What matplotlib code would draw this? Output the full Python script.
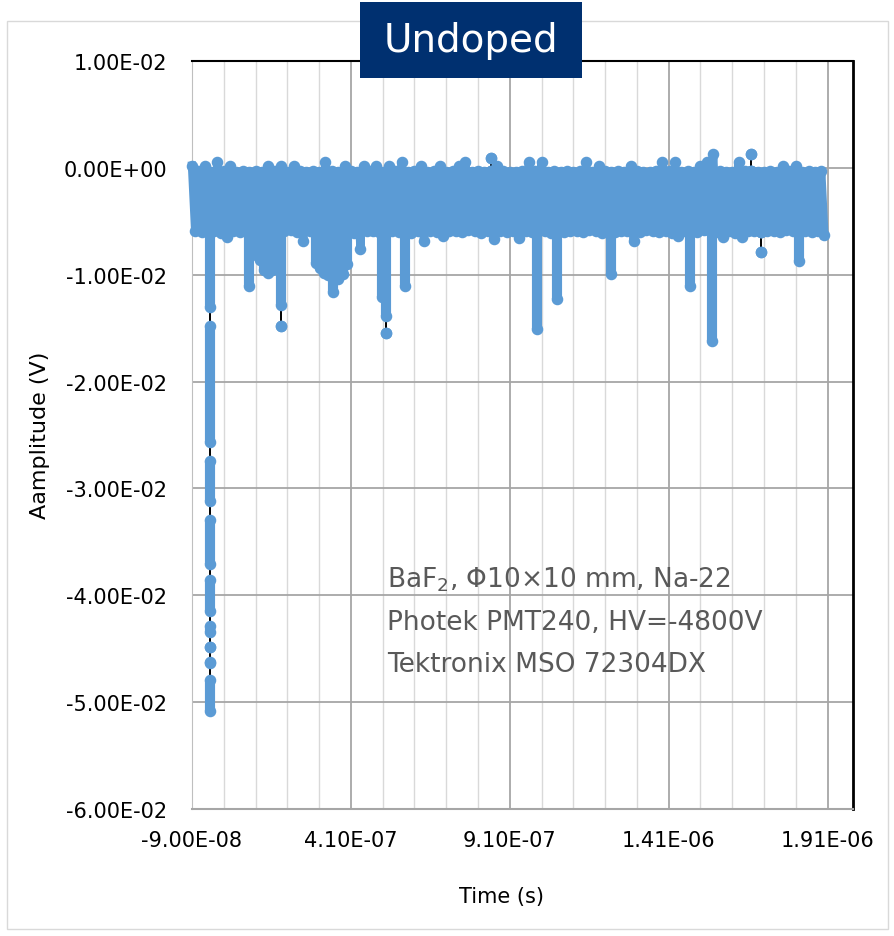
import numpy as np
import matplotlib
matplotlib.use("Agg")
import matplotlib.pyplot as plt
from matplotlib.ticker import FixedLocator, MultipleLocator, FuncFormatter
from matplotlib.patches import Rectangle

# scope record: crest / trough samples of the noise band (mV), 10 ns apart
t_first_ns = -90
sample_step_ns = 10
band_top_mv = [
    0.2, -0.3, 0.2, -0.4, 0.56, -0.3, 0.2, -0.35, -0.3, -0.4,
    -0.3, -0.35, 0.2, -0.3, 0.2, -0.4, 0.2, -0.3, -0.35, -0.3,
    -0.4, 0.56, -0.3, -0.35, 0.2, -0.3, -0.4, 0.2, -0.3, 0.2,
    -0.35, 0.2, -0.3, 0.56, -0.4, -0.3, 0.2, -0.35, -0.3, 0.2,
    -0.4, -0.3, 0.2, 0.56, -0.35, -0.3, -0.4, -0.3, 0.2, -0.3,
    -0.35, -0.4, -0.3, 0.56, -0.3, 0.56, -0.35, -0.3, -0.4, -0.3,
    -0.35, -0.3, 0.56, -0.4, 0.2, -0.3, -0.35, -0.3, -0.4, 0.2,
    -0.3, -0.35, -0.4, -0.3, 0.56, -0.3, 0.56, -0.35, -0.3, -0.4,
    0.2, 0.56, 1.3, -0.3, -0.35, -0.4, 0.56, -0.3, -0.3, -0.35,
    -0.4, -0.3, -0.35, 0.2, -0.3, 0.2, -0.4, -0.3, -0.35, -0.3]
band_bottom_mv = [
    -5.9, -6.0, -5.85, -5.95, -6.05, -6.5, -5.9, -6.0, -5.95, -5.85,
    -6.0, -5.9, -5.95, -6.05, -5.9, -5.85, -6.0, -6.8, -5.95, -5.9,
    -6.0, -5.85, -5.95, -6.0, -5.9, -6.05, -7.6, -5.95, -5.9, -6.0,
    -5.85, -5.95, -6.0, -5.9, -6.05, -5.95, -6.8, -5.9, -6.0, -6.4,
    -5.95, -5.9, -6.0, -5.85, -5.95, -6.05, -5.9, -6.7, -5.95, -6.0,
    -5.9, -6.6, -5.95, -6.0, -5.85, -5.95, -6.05, -5.9, -6.0, -5.95,
    -5.9, -6.0, -5.85, -5.95, -6.05, -5.9, -6.0, -5.95, -5.9, -6.8,
    -6.0, -5.85, -5.95, -6.0, -5.9, -6.05, -6.4, -5.95, -5.9, -6.0,
    -5.85, -5.95, -6.0, -6.5, -5.9, -6.05, -6.5, -5.95, -5.9, -6.0,
    -5.95, -5.9, -6.0, -5.85, -5.95, -6.05, -5.9, -6.0, -5.95, -6.3]

# pulses and outliers: time (ns) and runs of overlapping samples (mV, from, to)
pulse_t_ns = [-33, 88, 111, 124, 136, 149, 162, 174, 190,
              300, 313, 325, 338, 353, 369, 385, 397,
              508, 520, 580, 850, 997, 1058, 1228, 1478, 1545,
              1670, 1700, 1819]
pulse_runs_mv = [
    [(-6.0, -13.05), (-14.8, -25.7), (-27.4, -31.2), (-33.0, -37.1),
     (-38.6, -41.5), (-42.9, -43.4), (-44.8, -44.8), (-46.2, -46.3),
     (-47.9, -50.8)],
    [(-6.0, -11.1)],
    [(-6.0, -8.2)],
    [(-6.0, -8.6)],
    [(-6.0, -9.6)],
    [(-6.0, -9.8)],
    [(-6.0, -9.6)],
    [(-6.0, -9.3)],
    [(-6.0, -12.8), (-14.8, -14.8)],
    [(-6.0, -8.9)],
    [(-6.0, -9.4)],
    [(-6.0, -9.8)],
    [(-6.0, -10.0)],
    [(-6.0, -11.6)],
    [(-6.0, -10.4)],
    [(-6.0, -9.9)],
    [(-6.0, -9.0)],
    [(-6.0, -12.1)],
    [(-6.0, -13.9), (-15.5, -15.5)],
    [(-6.0, -11.1)],
    [(0.94, 0.94), (-0.3, -0.3)],
    [(-6.0, -15.1)],
    [(-6.0, -12.3)],
    [(-6.0, -9.9)],
    [(-6.0, -11.1)],
    [(-6.0, -16.2)],
    [(1.3, 1.3), (-0.3, -0.3)],
    [(-6.0, -6.0), (-7.9, -7.9)],
    [(-6.0, -8.7)],
]

x_major_s = [-9.0e-8, 4.1e-7, 9.1e-7, 1.41e-6, 1.91e-6]
note_lines = [r"BaF$_2$, Φ10×10 mm, Na-22",
              "Photek PMT240, HV=-4800V",
              "Tektronix MSO 72304DX"]

BLUE = "#5B9BD5"
MS = 7.3

fig = plt.figure(figsize=(8.95, 9.37), dpi=100)
ax = fig.add_axes([192 / 895, 1 - 810 / 937, (853 - 192) / 895, (810 - 62) / 937])

# noise band, samples alternate crest / trough
n = 2 * len(band_top_mv)
t_band = (t_first_ns + sample_step_ns * np.arange(n)) * 1e-9
v_band = np.column_stack([band_top_mv, band_bottom_mv]).ravel() * 1e-3
ax.plot(t_band, v_band, color=BLUE, lw=6, marker="o", ms=MS, mec=BLUE,
        zorder=3, clip_on=False)

# pulses: black trace with blue sample runs on top
for t, runs in zip(pulse_t_ns, pulse_runs_mv):
    vals = [v for run in runs for v in run]
    ax.plot([t * 1e-9] * 2, [max(vals) * 1e-3, min(vals) * 1e-3],
            color="black", lw=1.4, zorder=2)
    for a, b in runs:
        ax.plot([t * 1e-9] * 2, [a * 1e-3, b * 1e-3], color=BLUE, lw=MS,
                solid_capstyle="butt", marker="o", ms=MS, mec=BLUE, zorder=3)

ax.set_xlim(-9.0e-8, 1.99e-6)
ax.set_ylim(-0.06, 0.01)
ax.xaxis.set_major_locator(FixedLocator(x_major_s))
ax.xaxis.set_minor_locator(FixedLocator(np.arange(-9.0e-8, 1.99e-6, 1e-7)))
ax.yaxis.set_major_locator(MultipleLocator(0.01))
sci = FuncFormatter(lambda v, pos: f"{round(v, 12) + 0.0:.2E}")
ax.xaxis.set_major_formatter(sci)
ax.yaxis.set_major_formatter(sci)
ax.tick_params(axis="both", which="both", length=0, labelsize=15)
ax.tick_params(axis="y", pad=18)
ax.tick_params(axis="x", pad=15)

ax.grid(True, which="major", color="#A6A6A6", lw=1.3, zorder=0)
ax.grid(True, which="minor", axis="x", color="#D9D9D9", lw=1.0, zorder=0)
ax.set_axisbelow(True)
ax.spines["left"].set_color("#BFBFBF")
ax.spines["bottom"].set_color("#A6A6A6")
ax.spines["bottom"].set_linewidth(1.5)
ax.spines["top"].set_color("black")
ax.spines["top"].set_linewidth(1.5)
ax.spines["right"].set_color("black")
ax.spines["right"].set_linewidth(2)

note_y = [0.2968, 0.2406, 0.1845]
for line, y in zip(note_lines, note_y):
    ax.text(0.295, y, line, transform=ax.transAxes, fontsize=19,
            color="#595959", va="baseline", ha="left", zorder=5)

fig.text(40 / 895, 1 - 435 / 937, "Aamplitude (V)", rotation=90,
         ha="center", va="center", fontsize=16)
fig.text(502 / 895, 1 - 897 / 937, "Time (s)", ha="center", va="center",
         fontsize=15)

# chart area border and title box
fig.patches.append(Rectangle((7 / 895, 1 - 930 / 937), 881 / 895, 908 / 937,
                             transform=fig.transFigure, fill=False,
                             ec="#D9D9D9", lw=1.0))
fig.patches.append(Rectangle((360 / 895, 1 - 79 / 937), 222 / 895, 76 / 937,
                             transform=fig.transFigure, fc="#003070",
                             ec="none", zorder=10))
fig.text(471 / 895, 1 - 41 / 937, "Undoped", color="white", fontsize=28,
         ha="center", va="center", zorder=11)

fig.savefig("out.png", dpi=100)
